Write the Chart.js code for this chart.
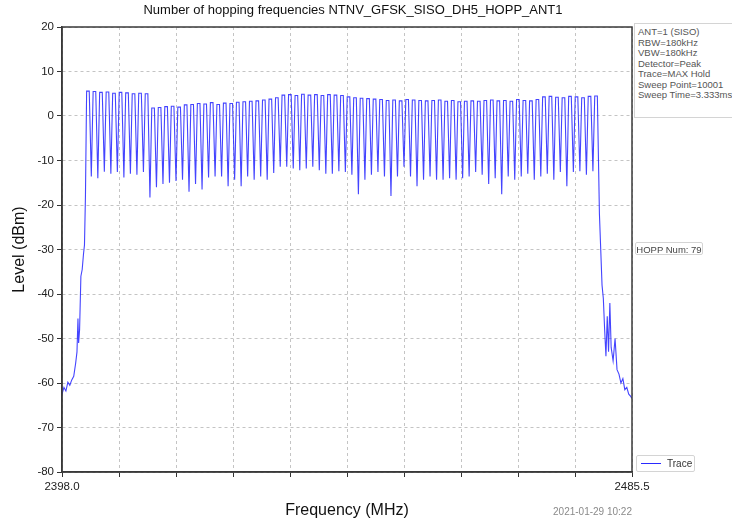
<!DOCTYPE html>
<html>
<head>
<meta charset="utf-8">
<script src="https://cdn.jsdelivr.net/npm/chart.js@4/dist/chart.umd.min.js"></script>
<style>
	html, body { margin: 0; padding: 0; background: #fff; }
	#wrap { position: relative; width: 732px; height: 524px; overflow: hidden; font-family: "Liberation Sans", Arial, sans-serif; }
	#chartCanvas { position: absolute; left: 0; top: 0; }
	#titleText { position: absolute; left: 353px; top: 2px; transform: translateX(-50%); white-space: nowrap; font-size: 13px; color: #111; }
	.box { position: absolute; background: #fff; border: 1px solid #d4d4d4; color: #555; font-size: 9.5px; }
	#infoBox { left: 634px; top: 23px; width: 104px; height: 95px; padding: 3px 0 0 3px; line-height: 10.5px; box-sizing: border-box; }
	#hoppBox { left: 635px; top: 242px; width: 68px; height: 13px; line-height: 13px; text-align: center; border-radius: 2px; color: #444; box-sizing: border-box; }
	#legendBox { left: 636px; top: 455px; width: 59px; height: 17px; border-radius: 2px; box-sizing: border-box; }
	#legendLine { position: absolute; left: 4px; top: 7px; width: 20px; height: 0; border-top: 1.5px solid #2a2aff; }
	#legendText { position: absolute; left: 30px; top: 2px; font-size: 10px; color: #333; }
	#dateText { position: absolute; right: 100px; top: 506px; font-size: 10px; color: #8a8a8a; }
</style>
</head>
<body>
<div id="wrap">
	<canvas id="chartCanvas" width="732" height="524"></canvas>
	<div id="titleText"></div>
	<div id="infoBox" class="box"></div>
	<div id="hoppBox" class="box"></div>
	<div id="legendBox" class="box"><div id="legendLine"></div><div id="legendText">Trace</div></div>
	<div id="dateText">2021-01-29 10:22</div>
</div>
<script>
const chartTitle = "Number of hopping frequencies NTNV_GFSK_SISO_DH5_HOPP_ANT1";

// sweep span
const startMHz = 2398.0;
const stopMHz = 2485.5;
const gridStepMHz = 8.75;

// hopping channels: first channel and spacing
const firstChannelMHz = 2402;
const channelSpacingMHz = 1;

// max-hold peak level of each channel (dBm)
const peakDbm = [
	5.6, 5.5, 5.3, 5.4, 5.1, 5.3, 5.2, 5.0, 5.1, 5.0,
	1.8, 1.9, 2.1, 2.2, 2.0, 2.5, 2.6, 2.8, 2.7, 3.0,
	2.6, 2.9, 2.8, 3.1, 3.2, 3.3, 3.4, 3.6, 3.8, 4.1,
	4.7, 4.8, 4.6, 4.9, 4.7, 4.8, 4.6, 4.8, 4.7, 4.6,
	4.3, 4.1, 4.0, 3.9, 3.8, 3.7, 3.5, 3.6, 3.4, 3.7,
	3.6, 3.5, 3.4, 3.5, 3.6, 3.3, 3.5, 3.2, 3.3, 3.4,
	3.3, 3.5, 3.6, 3.4, 3.5, 3.3, 3.7, 3.5, 3.4, 3.7,
	4.3, 4.4, 4.2, 4.1, 4.4, 4.3, 4.1, 4.4, 4.5
];

// level of the dip between channel i and channel i+1 (dBm)
const dipDbm = [
	-13.6, -14.0, -12.5, -13.0, -12.6, -13.8, -13.0, -13.2, -12.6, -18.3,
	-16.0, -15.3, -15.0, -14.6, -14.3, -17.0, -15.3, -16.5, -13.8, -13.6,
	-13.6, -15.8, -14.3, -15.8, -13.6, -14.3, -13.6, -14.3, -12.8, -11.4,
	-11.4, -11.8, -12.2, -11.8, -11.4, -12.2, -13.0, -13.0, -12.4, -12.6,
	-13.2, -17.6, -14.3, -13.2, -12.6, -13.6, -18.0, -13.6, -11.4, -13.6,
	-15.8, -14.3, -13.6, -14.3, -14.3, -14.0, -14.3, -14.0, -13.6, -12.6,
	-13.2, -15.3, -14.0, -17.6, -13.6, -14.3, -13.6, -13.0, -14.3, -13.6,
	-13.0, -14.3, -12.6, -15.8, -12.6, -12.4, -13.2, -12.4
];

// noise floor and skirt below the band
const leftSkirtMHz = [2398.0, 2398.3, 2398.6, 2398.9, 2399.2, 2399.5, 2399.8, 2400.1, 2400.3, 2400.45, 2400.55, 2400.7, 2400.9, 2401.1, 2401.3, 2401.45, 2401.6];
const leftSkirtDbm = [-62.5, -61.0, -61.8, -59.8, -60.5, -59.3, -58.5, -55.5, -53.0, -45.5, -51.0, -48.0, -36.0, -34.5, -31.0, -29.0, -18.0];

// skirt and noise floor above the band
const rightSkirtMHz = [2480.5, 2480.7, 2480.9, 2481.1, 2481.3, 2481.5, 2481.7, 2481.9, 2482.1, 2482.3, 2482.6, 2482.9, 2483.2, 2483.5, 2483.8, 2484.1, 2484.4, 2484.7, 2485.0, 2485.3, 2485.5];
const rightSkirtDbm = [-22.0, -30.0, -38.0, -41.0, -48.0, -54.0, -45.0, -53.0, -42.0, -52.0, -55.0, -50.0, -57.0, -58.0, -60.0, -59.0, -61.5, -61.0, -62.5, -63.0, -63.5];

// sweep settings text
const infoLines = ["ANT=1 (SISO)", "RBW=180kHz", "VBW=180kHz", "Detector=Peak", "Trace=MAX Hold", "Sweep Point=10001", "Sweep Time=3.333ms"];
const hoppCount = peakDbm.length;

// build the trace from the arrays
var trace = [];
leftSkirtMHz.forEach((f, i) => trace.push({ x: f, y: leftSkirtDbm[i] }));
peakDbm.forEach((p, i) => {
	var f = firstChannelMHz + i * channelSpacingMHz;
	trace.push({ x: f - 0.22, y: p });
	trace.push({ x: f + 0.18, y: p });
	if (i < dipDbm.length) trace.push({ x: f + 0.5, y: dipDbm[i] });
});
rightSkirtMHz.forEach((f, i) => trace.push({ x: f, y: rightSkirtDbm[i] }));

document.getElementById("titleText").textContent = chartTitle;
document.getElementById("infoBox").innerHTML = infoLines.join("<br>");
document.getElementById("hoppBox").textContent = `HOPP Num: ${hoppCount}`;

Chart.defaults.font.family = "'Liberation Sans', Arial, sans-serif";
Chart.defaults.color = "#222";

const framePlugin = {
	id: "frame",
	afterDraw(chart) {
		const a = chart.chartArea;
		const ctx = chart.ctx;
		ctx.save();
		ctx.strokeStyle = "#3a3a3a";
		ctx.lineWidth = 1.5;
		ctx.setLineDash([]);
		ctx.strokeRect(a.left, a.top, a.right - a.left, a.bottom - a.top);
		ctx.restore();
	},
};

var chart = new Chart(document.getElementById("chartCanvas"), {
	type: "scatter",
	data: {
		datasets: [
			{
				label: "Trace",
				data: trace,
				showLine: true,
				borderColor: "rgba(35,35,255,0.85)",
				borderWidth: 1.1,
				pointRadius: 0,
				tension: 0,
			},
		],
	},
	options: {
		responsive: false,
		devicePixelRatio: 1,
		animation: false,
		layout: { padding: { left: 0, right: 100, top: 27, bottom: 0 } },
		plugins: {
			legend: { display: false },
			tooltip: { enabled: false },
		},
		scales: {
			x: {
				type: "linear",
				min: startMHz,
				max: stopMHz,
				afterFit: (s) => { s.height = 52; },
				ticks: {
					stepSize: gridStepMHz,
					autoSkip: false,
					maxRotation: 0,
					padding: 3,
					font: { size: 11.5 },
					color: "#222",
					callback: (v) => (Math.abs(v - startMHz) < 0.01 || Math.abs(v - stopMHz) < 0.01 ? v.toFixed(1) : ""),
				},
				grid: { color: "#c4c4c4", tickColor: "#333", tickLength: 5, tickWidth: 1 },
				border: { display: true, color: "#3a3a3a", width: 1.5, dash: [3, 3] },
				title: { display: true, text: "Frequency (MHz)", font: { size: 16 }, color: "#111", padding: { top: 4, bottom: 4 } },
			},
			y: {
				min: -80,
				max: 20,
				afterFit: (s) => { s.width = 62; },
				ticks: { stepSize: 10, padding: 3, font: { size: 11.5 }, color: "#222" },
				grid: { color: "#c4c4c4", tickColor: "#333", tickLength: 5, tickWidth: 1 },
				border: { display: true, color: "#3a3a3a", width: 1.5, dash: [3, 3] },
				title: { display: true, text: "Level (dBm)", font: { size: 16 }, color: "#111", padding: { top: 10, bottom: 4 } },
			},
		},
	},
	plugins: [framePlugin],
});
</script>
</body>
</html>
